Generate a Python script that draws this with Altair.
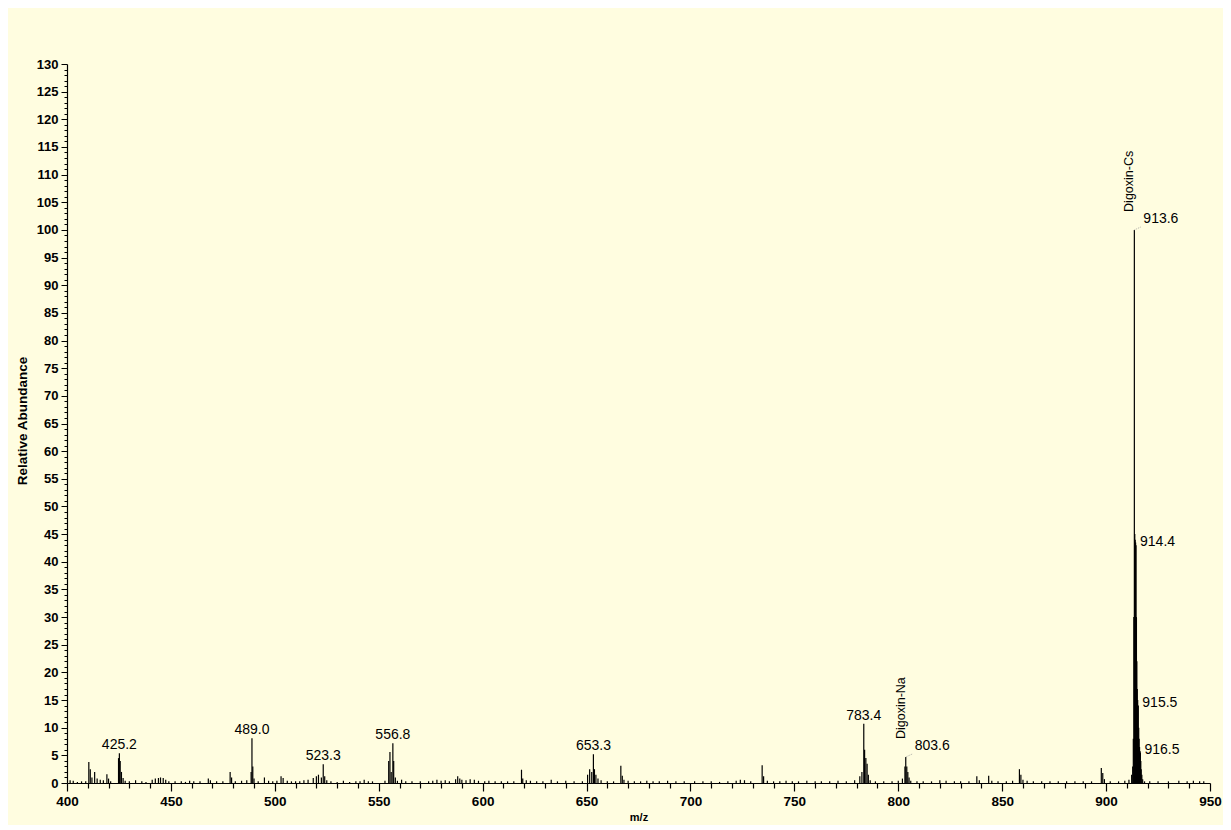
import altair as alt
import pandas as pd

# ---- spectrum sticks (m/z, relative abundance) ----
mz = [
    401.5, 403, 405, 407, 409, 410.5, 411.2, 412, 413.3, 414.5, 416, 417.5, 419.2, 420, 421,
    424.8, 425.2, 425.6, 426.2, 427, 428, 430, 433, 436, 438, 441, 442.5, 444, 445, 446.3, 447.5, 449,
    452, 455, 457, 459, 461, 464, 468, 469, 472, 475, 478.5, 479.2, 481, 484, 486.5,
    488.6, 489.0, 489.4, 490, 492, 495, 497, 499,
    501, 503, 504, 506, 508, 510, 512, 514, 516, 518.5, 520, 521, 522.4, 523.3, 524, 525, 527,
    530, 533, 536, 539, 541, 543, 545, 547,
    553, 554.8, 555.4, 556, 556.8, 557.2, 558, 559, 561, 563, 566, 570, 574, 576, 578, 580, 582,
    584, 587, 588, 589, 590, 592, 594, 596, 598,
    601, 603, 606, 609, 612, 615, 618.7, 619.3, 621, 623, 626, 629, 633, 636, 640, 644, 648,
    650.5, 651.5, 652.5, 653.3, 653.8, 654.5, 655.5, 657, 660, 663, 666.5, 667.2, 668, 670, 673,
    676, 679, 682, 685, 689, 693, 697,
    702, 706, 710, 714, 718, 722, 724, 726, 729, 734.5, 735.2, 737, 740, 743, 746, 749, 752, 756,
    760, 763, 767, 771, 775, 779, 781.5, 782.5, 783.4, 783.8, 784.4, 785, 785.6, 786.5, 789, 793,
    797, 800,
    802, 803.2, 803.6, 804.1, 804.6, 805.2, 806, 809, 812, 816, 820, 823, 827, 830, 834, 837.8,
    839, 843.5, 845, 848, 852, 855, 858.3, 859, 860, 862, 865, 869, 873, 877, 881, 885, 889, 893,
    897.7, 898.4, 899.2, 902, 906, 909, 911, 912.3, 912.8, 913.1, 913.35, 913.6, 913.8, 914.0,
    914.2, 914.4, 914.6, 914.8, 915.0, 915.2, 915.5, 915.7, 915.9, 916.1, 916.3, 916.5, 916.7,
    916.9, 917.2, 917.6, 918.5, 921, 925, 930, 935, 939, 942, 945, 947,
]
abundance = [
    0.5, 0.4, 0.2, 0.3, 0.3, 3.8, 2.5, 1.0, 2.0, 0.8, 0.6, 0.5, 1.6, 0.8, 0.3,
    4.5, 5.4, 4.0, 2.0, 0.9, 0.4, 0.3, 0.5, 0.3, 0.2, 0.6, 0.8, 0.9, 1.0, 0.9, 0.6, 0.3,
    0.3, 0.3, 0.2, 0.4, 0.3, 0.3, 0.8, 0.5, 0.3, 0.3, 2.0, 1.0, 0.3, 0.4, 0.5,
    2.0, 8.1, 3.0, 0.8, 0.3, 1.0, 0.4, 0.3,
    0.4, 1.2, 0.9, 0.4, 0.3, 0.3, 0.3, 0.5, 0.6, 0.9, 1.2, 1.5, 1.0, 3.4, 1.2, 0.5, 0.3,
    0.2, 0.4, 0.2, 0.3, 0.3, 0.6, 0.3, 0.3,
    0.4, 4.0, 5.6, 2.0, 7.2, 4.0, 1.0, 0.4, 0.6, 0.3, 0.3, 0.3, 0.3, 0.4, 0.6, 0.4, 0.5,
    0.3, 0.7, 1.2, 0.8, 0.6, 0.5, 0.7, 0.6, 0.4,
    0.3, 0.4, 0.3, 0.3, 0.3, 0.3, 2.4, 0.8, 0.5, 0.4, 0.3, 0.3, 0.6, 0.3, 0.4, 0.3, 0.3,
    1.5, 2.5, 2.0, 5.2, 2.5, 1.5, 0.8, 0.5, 0.3, 0.3, 3.1, 1.3, 0.6, 0.4, 0.3,
    0.3, 0.4, 0.3, 0.3, 0.4, 0.3, 0.3,
    0.3, 0.3, 0.3, 0.2, 0.3, 0.4, 0.6, 0.5, 0.3, 3.2, 1.2, 0.4, 0.3, 0.3, 0.4, 0.3, 0.3, 0.4,
    0.3, 0.3, 0.3, 0.4, 0.3, 0.5, 1.2, 2.0, 10.7, 6.0, 4.5, 3.5, 1.5, 0.5, 0.3, 0.3,
    0.3, 0.4,
    0.8, 3.0, 4.7, 3.0, 2.0, 1.0, 0.4, 0.3, 0.3, 0.3, 0.5, 0.4, 0.3, 0.3, 0.3, 1.2,
    0.5, 1.3, 0.4, 0.3, 0.3, 0.4, 2.5, 1.5, 0.6, 0.4, 0.3, 0.3, 0.3, 0.3, 0.3, 0.3, 0.3, 0.3,
    2.7, 1.8, 0.7, 0.3, 0.3, 0.4, 0.6, 1.5, 3.0, 8.0, 30, 100, 45, 44,
    43.5, 43, 30, 22, 17, 15, 14, 10, 8, 6.5, 5.8, 5.5, 4.0,
    2.5, 1.5, 0.7, 0.3, 0.3, 0.3, 0.3, 0.4, 0.3, 0.4, 0.3, 0.3,
]

# ---- annotations ----
above_mz = [425.2, 489.0, 523.3, 556.8, 653.3, 783.4]
above_h = [5.4, 8.1, 3.4, 7.2, 5.2, 10.7]
above_txt = ["425.2", "489.0", "523.3", "556.8", "653.3", "783.4"]

side_mz = [914.4, 915.5, 916.5]
side_h = [43, 14, 5.5]
side_txt = ["914.4", "915.5", "916.5"]

lead_mz = [913.6, 803.6]
lead_h = [100, 4.7]
lead_txt = ["913.6", "803.6"]
ion_txt = ["Digoxin-Cs", "Digoxin-Na"]

x_ticks = list(range(400, 951, 10))
y_ticks = list(range(0, 131, 1))

FONT = "Liberation Sans"
W, H = 1143, 719

spec = pd.DataFrame({"mz": mz, "ab": abundance})
above = pd.DataFrame({"mz": above_mz, "ab": above_h, "t": above_txt})
side = pd.DataFrame({"mz": side_mz, "ab": side_h, "t": side_txt})
lead = pd.DataFrame({"mz": lead_mz, "ab": lead_h, "t": lead_txt, "ion": ion_txt})

xs = alt.Scale(domain=[400, 950], nice=False, zero=False)
ys = alt.Scale(domain=[0, 130], nice=False)

x_axis = alt.Axis(
    title="m/z", values=x_ticks,
    labelExpr="datum.value % 50 === 0 ? datum.label : ''",
    tickSize={"condition": {"test": "datum.value % 50 === 0", "value": 8}, "value": 5},
    labelOverlap=False, labelFlush=False, grid=False,
    labelFont=FONT, labelFontSize=13.5, labelFontWeight="bold", labelColor="black",
    titleFont=FONT, titleFontSize=11, titleFontWeight="bold", titleColor="black",
    titleY=34, titleBaseline="middle",
    domainColor="black", tickColor="black", domainWidth=1.2, tickWidth=1.2, labelPadding=3,
)
y_axis = alt.Axis(
    title="Relative Abundance", values=y_ticks,
    labelExpr="datum.value % 5 === 0 ? datum.label : ''",
    tickSize={"condition": {"test": "datum.value % 5 === 0", "value": 6}, "value": 3},
    labelOverlap=False, labelFlush=False, grid=False,
    labelFont=FONT, labelFontSize=13, labelFontWeight="bold", labelColor="black",
    titleFont=FONT, titleFontSize=13.5, titleFontWeight="bold", titleColor="black",
    titleX=-45, titleY=H / 2 - 3, titleAngle=270, titleAlign="center", titleBaseline="middle",
    domainColor="black", tickColor="black", domainWidth=1.2, tickWidth=1, labelPadding=3,
)

X = alt.X("mz:Q", scale=xs, axis=x_axis)
Y = alt.Y("ab:Q", scale=ys, axis=y_axis)

sticks = alt.Chart(spec).mark_rule(color="black", strokeWidth=1.2).encode(
    x=X, y=Y, y2=alt.datum(0),
)

txt = dict(font=FONT, fontSize=14, color="black")

above_lbl = alt.Chart(above).mark_text(align="center", baseline="alphabetic", dy=-4, **txt).encode(
    x=X, y=Y, text="t:N")

side_lbl = alt.Chart(side).mark_text(align="left", baseline="middle", dx=4, dy=-3, **txt).encode(
    x=X, y=Y, text="t:N")

lead_lbl = alt.Chart(lead).mark_text(align="left", baseline="middle", dx=9, dy=-11, **txt).encode(
    x=X, y=Y, text="t:N")

lead_line = alt.Chart(lead).mark_rule(color="#999999", strokeWidth=0.8, strokeDash=[1, 1]).encode(
    x=X, y=Y, x2=alt.X2("lx:Q"), y2=alt.Y2("ly:Q"),
).transform_calculate(lx="datum.mz + 3.5", ly="datum.ab + 0.6")

ion_lbl = alt.Chart(lead).mark_text(angle=270, align="left", baseline="middle", dx=18, dy=-5,
                                    font=FONT, fontSize=12.5, color="black").encode(
    x=X, y=Y, text="ion:N")

chart = alt.layer(sticks, lead_line, above_lbl, side_lbl, lead_lbl, ion_lbl).properties(
    width=W, height=H,
    autosize=alt.AutoSizeParams(type="none"),
    padding={"left": 59, "top": 56, "right": 13, "bottom": 42},
    background="#FFFDE0",
).configure_view(stroke=None)

chart.save("out.html", embed_options={"renderer": "svg", "actions": False})
